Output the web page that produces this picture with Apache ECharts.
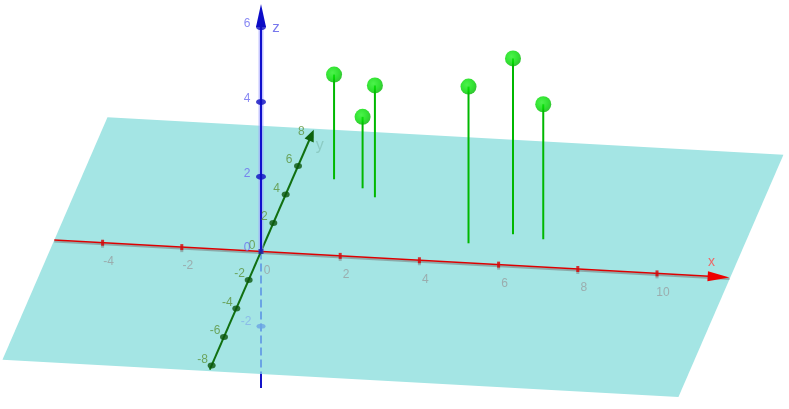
<!DOCTYPE html>
<html><head><meta charset="utf-8">
<script src="https://cdn.jsdelivr.net/npm/echarts@6/dist/echarts.min.js"></script>
<style>html,body{margin:0;padding:0;background:#fff}#c{width:789px;height:409px}</style>
</head><body><div id="c"></div>
<script>
// ---- data (3D values) ----
const pointX = [1.03, 1.83, 2.23, 5.03, 6.03, 6.83];
const pointY = [5.23, 4.72, 4.15, 1.35, 2.14, 1.91];
const pointZ = [2.80, 1.91, 2.99, 4.19, 4.70, 3.61];
const xTicks = [-4, -2, 0, 2, 4, 6, 8, 10];
const yTicks = [-8, -6, -4, -2, 0, 2, 4, 6, 8];
const zTicks = [-2, 0, 2, 4, 6];
const xRange = [-5.22, 11.83];
const yRange = [-8.3, 8.55];
const zRange = [-3.65, 6.62];
const planeX = [-5.22, 11.85];
const planeY = [-8.4, 8.62];

// ---- view projection (3D -> screen units of a full-canvas hidden grid) ----
const O = [261, 251.5], EX = [39.6, 2.19], EY = [6.17, -14.24], EZ = [0, -37.4];
function P(x, y, z) { return [O[0] + EX[0]*x + EY[0]*y + EZ[0]*z, O[1] + EX[1]*x + EY[1]*y + EZ[1]*z]; }

// where the z axis leaves the plane's lower edge (for the hidden dashed part)
const bl = P(planeX[0], planeY[0], 0), br = P(planeX[1], planeY[0], 0);
const edgeSy = bl[1] + (br[1]-bl[1]) * (O[0]-bl[0]) / (br[0]-bl[0]);
const zEdge = (edgeSy - O[1]) / EZ[1];

function seg(a, b, color, width, extra) {
  return Object.assign({ type: 'line', data: [a, b], symbol: 'none', silent: true,
    lineStyle: { color: color, width: width }, z: 2 }, extra || {});
}
function arrow(tip3, base3, color, hw, z) {
  return { type: 'custom', coordinateSystem: 'cartesian2d', silent: true, z: z || 3,
    data: [[0, 0]],
    renderItem: function (params, api) {
      const t = api.coord(P.apply(null, tip3)), b = api.coord(P.apply(null, base3));
      const dx = t[0]-b[0], dy = t[1]-b[1], L = Math.hypot(dx, dy) || 1;
      const nx = -dy/L*hw, ny = dx/L*hw;
      return { type: 'polygon', shape: { points: [t, [b[0]+nx, b[1]+ny], [b[0]-nx, b[1]-ny]] },
        style: { fill: color } };
    } };
}
function ticks(pts, symbol, size, color, z) {
  return { type: 'scatter', data: pts, symbol: symbol, symbolSize: size, silent: true, z: z || 4,
    itemStyle: { color: color } };
}
function labels(items, color, off, size) {
  return { type: 'scatter', symbolSize: 0, silent: true, z: 6,
    data: items.map(function (it) { return { value: it.p, name: it.t }; }),
    label: { show: true, position: 'inside', offset: off, formatter: function (p) { return p.name; },
      color: color, fontSize: size || 12, fontFamily: 'Liberation Sans, Arial, sans-serif' } };
}

const series = [];
// plane z = 0
series.push({ type: 'custom', coordinateSystem: 'cartesian2d', silent: true, z: 1, data: [[0, 0]],
  renderItem: function (params, api) {
    const pts = [P(planeX[0], planeY[1], 0), P(planeX[1], planeY[1], 0), P(planeX[1], planeY[0], 0), P(planeX[0], planeY[0], 0)]
      .map(function (q) { return api.coord(q); });
    return { type: 'polygon', shape: { points: pts }, style: { fill: '#a4e5e4' } };
  } });
// hidden part of z axis (dashed), and part below plane
series.push(seg(P(0,0,0), P(0,0,zEdge), '#6aa4e4', 2, { lineStyle: { color: '#6aa4e4', width: 2, type: [8, 4] } }));
series.push(seg(P(0,0,zEdge), P(0,0,zRange[0]), '#1414c8', 2));
series.push(ticks([P(0,0,-2)], 'circle', [9, 5], '#6aa4e4'));
// x axis
series.push(seg([P(xRange[0],0,0)[0], P(xRange[0],0,0)[1]+1.5], [P(xRange[1],0,0)[0], P(xRange[1],0,0)[1]+1.5], 'rgba(120,120,120,0.55)', 2));
series.push(seg(P(xRange[0],0,0), P(xRange[1]-0.4,0,0), '#dd0000', 1.6));
series.push(ticks(xTicks.filter(function (v) { return v !== 0; }).map(function (v) { var q = P(v,0,0); return [q[0], q[1]+2]; }), 'rect', [3, 6], 'rgba(120,120,120,0.6)'));
series.push(ticks(xTicks.filter(function (v) { return v !== 0; }).map(function (v) { return P(v,0,0); }), 'rect', [3, 6], '#dd0000'));
series.push(arrow([xRange[1],0,0], [xRange[1]-0.55,0,0], '#ee0000', 5));
// y axis
series.push(seg(P(0,yRange[0],0), P(0,yRange[1]-0.3,0), '#117011', 2));
series.push(ticks(yTicks.filter(function (v) { return v !== 0 && v !== 8; }).map(function (v) { return P(0,v,0); }), 'circle', [8, 6], '#0b560b'));
series.push(arrow([0,yRange[1],0], [0,yRange[1]-0.75,0], '#0d620d', 5));
// z axis
series.push(seg(P(0,0,0), P(0,0,zRange[1]-0.4), 'rgba(160,160,255,0.6)', 5));
series.push(seg(P(0,0,0), P(0,0,zRange[1]-0.4), '#1010cc', 2));
series.push(ticks(zTicks.filter(function (v) { return v > 0; }).map(function (v) { return P(0,0,v); }), 'circle', [10, 6], '#0c0cc0'));
series.push(arrow([0,0,zRange[1]], [0,0,zRange[1]-0.62], '#0c0cc8', 5));
series.push(ticks([P(0,0,0)], 'rect', [5, 5], '#2020aa', 5));
// stems from the plane to the points
series.push({ type: 'custom', coordinateSystem: 'cartesian2d', silent: true, z: 5,
  data: pointX.map(function (x, i) { return [x, pointY[i], pointZ[i]]; }),
  renderItem: function (params, api) {
    const x = api.value(0), y = api.value(1), z = api.value(2);
    const a = api.coord(P(x, y, 0)), b = api.coord(P(x, y, z));
    return { type: 'line', shape: { x1: a[0], y1: a[1], x2: b[0], y2: b[1] },
      style: { stroke: '#00b800', lineWidth: 2 } };
  } });
// spheres
series.push({ type: 'scatter', silent: true, z: 7, symbolSize: 16,
  data: pointX.map(function (x, i) { return P(x, pointY[i], pointZ[i]); }),
  itemStyle: { color: { type: 'radial', x: 0.4, y: 0.38, r: 0.65,
    colorStops: [{ offset: 0, color: '#1ef01e' }, { offset: 0.6, color: '#00dc00' }, { offset: 1, color: '#00b400' }] } } });
// tick labels
series.push(labels(xTicks.map(function (v) { return { p: P(v,0,0), t: String(v) }; }), '#999fa0', [6, 19]));
series.push(labels(yTicks.map(function (v) { return { p: P(0,v,0), t: String(v) }; }), '#5d943c', [-9, -6]));
series.push(labels(zTicks.filter(function (v) { return v >= 0; }).map(function (v) { return { p: P(0,0,v), t: String(v) }; }), '#6a6af0', [-14, -3.5]));
series.push(labels(zTicks.filter(function (v) { return v < 0; }).map(function (v) { return { p: P(0,0,v), t: String(v) }; }), '#84b2ea', [-15, -5]));
// axis names
series.push(labels([{ p: P(xRange[1],0,0), t: 'x' }], '#ff4a4a', [-18, -15], 14));
series.push(labels([{ p: P(0,yRange[1],0), t: 'y' }], '#86c4ba', [6, 16], 16));
series.push(labels([{ p: P(0,0,zRange[1]), t: 'z' }], '#5656e8', [15, 24], 15));

const chart = echarts.init(document.getElementById('c'), null, { renderer: 'canvas' });
chart.setOption({
  animation: false,
  backgroundColor: '#ffffff',
  grid: { left: 0, right: 0, top: 0, bottom: 0 },
  xAxis: { type: 'value', min: 0, max: 789, show: false },
  yAxis: { type: 'value', min: 0, max: 409, inverse: true, show: false },
  series: series
});
</script>
</body></html>
